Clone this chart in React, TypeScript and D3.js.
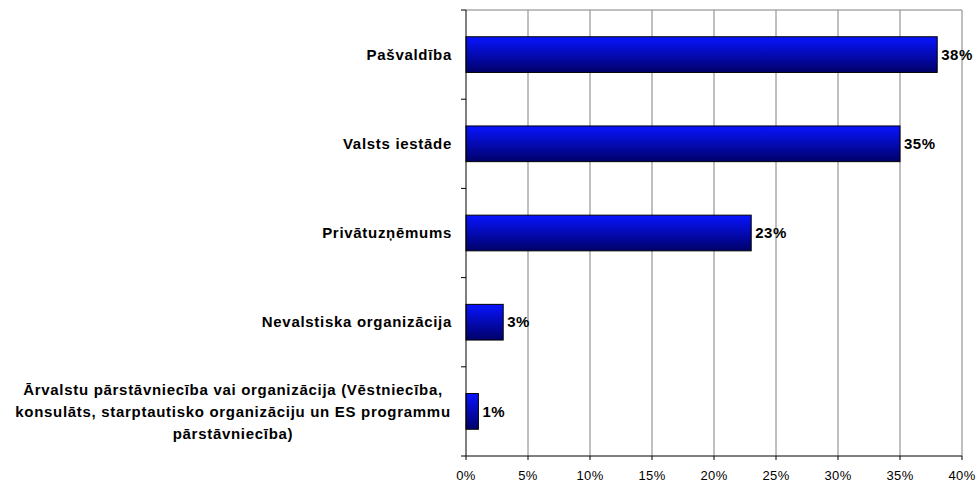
import React from "react";
import * as d3 from "d3";

const categories = [
  "Pašvaldība",
  "Valsts iestāde",
  "Privātuzņēmums",
  "Nevalstiska organizācija",
  "Ārvalstu pārstāvniecība vai organizācija (Vēstniecība,|konsulāts, starptautisko organizāciju un ES programmu|pārstāvniecība)",
];
const values = [38, 35, 23, 3, 1];
const xTicks = [0, 5, 10, 15, 20, 25, 30, 35, 40];

const W = 976, H = 484;
const margin = { top: 10, right: 14, bottom: 28, left: 466 };
const font = "'Liberation Sans', Arial, sans-serif";

export default function App() {
  const x = d3.scaleLinear().domain([0, 40]).range([margin.left, W - margin.right]);
  const y = d3.scaleBand().domain(categories).range([margin.top, H - margin.bottom]).paddingInner(0).paddingOuter(0);
  const barH = y.bandwidth() * 0.4;
  const bottom = H - margin.bottom;

  return (
    <div style={{ position: "absolute", left: 0, top: 0 }}>
      <svg width={W} height={H} style={{ display: "block", background: "#fff" }}>
        <defs>
          <linearGradient id="barGrad" x1="0" y1="0" x2="0" y2="1">
            <stop offset="0%" stopColor="#0814ff" />
            <stop offset="100%" stopColor="#000068" />
          </linearGradient>
        </defs>

        {/* gridlines */}
        {xTicks.slice(1).map(t => (
          <line key={t} x1={x(t)} x2={x(t)} y1={margin.top} y2={bottom} stroke="#808080" strokeWidth={1} />
        ))}
        <line x1={margin.left} x2={x(40)} y1={margin.top} y2={margin.top} stroke="#808080" />

        {/* bars */}
        {categories.map((c, i) => {
          const cy = y(c)! + y.bandwidth() / 2;
          return (
            <g key={c}>
              <rect x={x(0)} y={cy - barH / 2} width={x(values[i]) - x(0)} height={barH}
                fill="url(#barGrad)" stroke="#000" strokeWidth={1} />
              <text x={x(values[i]) + 4} y={cy} dy="0.35em" fontFamily={font} fontWeight="bold"
                fontSize={15} letterSpacing={0.5} fill="#000">{values[i]}%</text>
            </g>
          );
        })}

        {/* y axis */}
        <line x1={margin.left} x2={margin.left} y1={margin.top} y2={bottom} stroke="#000" />
        {d3.range(categories.length + 1).map(i => {
          const yy = margin.top + i * y.bandwidth();
          return <line key={i} x1={margin.left - 5} x2={margin.left} y1={yy} y2={yy} stroke="#000" />;
        })}
        {categories.map(c => {
          const lines = c.split("|");
          const cy = y(c)! + y.bandwidth() / 2;
          const lh = 22;
          const multi = lines.length > 1;
          return (
            <text key={c} fontFamily={font} fontWeight="bold" fontSize={15} letterSpacing={0.7}
              fill="#000" textAnchor={multi ? "middle" : "end"}>
              {lines.map((l, j) => (
                <tspan key={j} x={multi ? 233 : margin.left - 14}
                  y={cy + (j - (lines.length - 1) / 2) * lh} dy="0.35em">{l}</tspan>
              ))}
            </text>
          );
        })}

        {/* x axis */}
        <line x1={margin.left} x2={x(40)} y1={bottom} y2={bottom} stroke="#000" />
        {xTicks.map(t => (
          <g key={t}>
            <line x1={x(t)} x2={x(t)} y1={bottom} y2={bottom + 4} stroke="#000" />
            <text x={x(t)} y={bottom + 19} dy="0.35em" textAnchor="middle" fontFamily={font}
              fontSize={13} letterSpacing={0.4} fill="#000">{t}%</text>
          </g>
        ))}
      </svg>
    </div>
  );
}
